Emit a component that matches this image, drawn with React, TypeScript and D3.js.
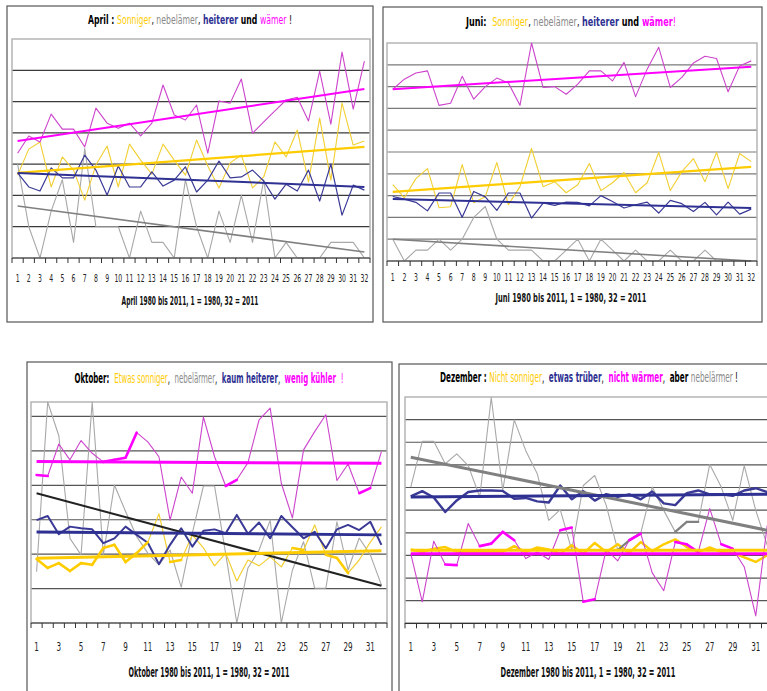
import React from 'react';
import * as d3 from 'd3';

// ---------- DATA (grid units of each panel) ----------
const years = [1, 2, 3, 4, 5, 6, 7, 8, 9, 10, 11, 12, 13, 14, 15, 16, 17, 18, 19, 20, 21, 22, 23, 24, 25, 26, 27, 28, 29, 30, 31, 32];

// April
const aprilTemp = [3.35, 3.90, 3.71, 4.60, 4.12, 4.12, 3.55, 4.79, 4.31, 4.15, 4.31, 3.90, 4.31, 5.53, 4.57, 4.41, 4.89, 3.35, 5.02, 4.95, 5.72, 3.99, 4.35, 4.70, 5.05, 5.14, 4.38, 5.97, 4.28, 6.58, 4.76, 6.29];
const aprilTempTrend = [3.74, 5.40];
const aprilSun = [2.65, 3.48, 3.71, 2.27, 3.23, 2.81, 1.85, 2.97, 3.58, 2.27, 3.64, 3.13, 2.68, 3.64, 3.13, 2.65, 3.77, 2.94, 2.24, 3.04, 3.29, 2.24, 2.59, 3.71, 3.23, 4.09, 2.43, 4.47, 2.49, 4.95, 3.61, 3.74];
const aprilSunTrend = [2.72, 3.55];
const aprilClear = [2.72, 2.27, 2.14, 2.88, 2.56, 2.56, 3.29, 2.81, 2.01, 2.94, 2.27, 2.27, 2.75, 2.30, 2.49, 2.91, 2.11, 2.49, 3.10, 2.56, 2.59, 2.81, 2.46, 1.88, 2.36, 2.14, 2.81, 1.82, 3.00, 1.37, 2.33, 2.17];
const aprilClearTrend = [2.72, 2.27];
const aprilFog = [3, 1, 0, 1.5, 2.5, 0.5, 3.5, 1, 1, 1, 0, 1.5, 0.5, 0.5, 0, 2.5, 1, 0, 1.5, 0.5, 2, 0.5, 2.5, 0, 0.5, 0, 0, 0, 0.5, 0.5, 0.5, 0];
const aprilFogTrend = [1.66, 0.19];

// Juni
const juniTemp = [7.88, 8.34, 8.62, 8.72, 7.14, 7.24, 8.47, 7.42, 8.00, 8.39, 8.16, 7.14, 10.0, 7.96, 8.00, 7.65, 8.11, 8.72, 8.72, 8.26, 9.11, 7.54, 8.80, 9.80, 7.96, 8.42, 9.08, 9.39, 9.29, 7.76, 8.95, 9.18];
const juniTempTrend = [7.88, 8.91];
const juniSun = [3.50, 2.90, 3.78, 4.24, 2.44, 2.49, 4.42, 2.67, 2.95, 4.52, 2.58, 3.41, 5.16, 3.41, 3.64, 3.13, 3.50, 4.47, 3.23, 3.59, 4.06, 3.13, 3.59, 4.98, 3.23, 4.10, 4.70, 3.64, 4.98, 3.32, 4.93, 4.56];
const juniSunTrend = [3.17, 4.32];
const juniClear = [2.96, 2.84, 2.69, 2.30, 3.12, 3.12, 2.01, 3.19, 2.94, 2.32, 3.12, 3.12, 1.97, 2.66, 2.55, 2.70, 2.69, 2.53, 3.00, 2.73, 2.43, 2.58, 2.70, 2.20, 2.78, 2.63, 2.27, 2.69, 2.12, 2.70, 2.15, 2.38];
const juniClearTrend = [2.84, 2.43];
const juniFog = [1, 0, 0.5, 0.5, 1, 0.5, 1, 2, 2.5, 1, 0.5, 0.5, 0.5, 0, 0, 0.5, 1, 0, 1, 0.5, 0, 0.5, 0, 0, 0.5, 0, 0, 0.5, 0, 0, 0, 0];
const juniFogTrend = [1.0, 0.0];

// Oktober
const oktTemp = [4.30, 4.27, 5.20, 4.74, 5.30, 4.93, 4.68, 4.74, 4.80, 5.53, 5.26, 4.83, 2.99, 4.24, 3.77, 5.98, 4.83, 3.98, 4.16, 4.66, 5.90, 6.24, 4.06, 3.05, 5.03, 5.56, 6.05, 4.14, 4.62, 3.77, 3.92, 4.98];
const oktTempTrend = [4.69, 4.64];
const oktSun = [1.86, 1.60, 1.74, 1.51, 1.74, 1.69, 2.18, 2.27, 1.77, 2.03, 2.35, 3.17, 1.77, 1.83, 2.56, 2.18, 1.66, 2.03, 1.22, 1.83, 1.66, 1.92, 1.63, 2.18, 2.12, 2.85, 1.98, 1.89, 1.45, 1.83, 2.35, 2.79];
const oktSunTrend = [1.88, 2.10];
const oktClear = [2.99, 3.11, 2.58, 2.80, 2.75, 2.72, 2.32, 2.46, 2.80, 2.56, 2.33, 1.71, 2.27, 2.75, 2.22, 2.68, 2.72, 2.61, 3.14, 2.59, 2.92, 2.46, 3.11, 2.78, 2.46, 2.65, 2.17, 2.72, 2.85, 2.70, 2.94, 2.27];
const oktClearTrend = [2.64, 2.56];
const oktFog = [1.49, 6.42, 5.44, 2.46, 1.98, 6.42, 1.98, 4.01, 3.24, 2.51, 2.03, 1.69, 2.12, 1.04, 2.61, 3.98, 3.98, 2.01, 0, 1.60, 2.12, 2.99, 0, 1.54, 2.36, 1.01, 1.01, 2.94, 1.54, 2.47, 1.98, 1.10];
const oktFogTrend = [3.77, 1.08];

// Dezember
const dezTemp = [3.08, 0.95, 3.63, 2.60, 2.57, 4.41, 3.41, 3.52, 4.04, 3.67, 2.86, 3.15, 2.82, 4.11, 4.23, 0.95, 1.06, 3.26, 2.76, 3.67, 3.96, 2.23, 1.44, 3.59, 3.49, 3.15, 5.07, 3.49, 3.30, 2.49, 0.33, 4.33];
const dezTempTrend = [3.07, 3.07];
const dezSun = [3.27, 3.15, 3.30, 3.37, 3.15, 3.15, 3.15, 3.15, 3.15, 3.41, 3.15, 3.35, 3.26, 3.08, 3.45, 3.08, 3.55, 3.15, 3.49, 3.11, 3.59, 3.19, 3.49, 3.71, 3.37, 3.15, 3.35, 3.15, 3.11, 2.91, 2.71, 3.01];
const dezSunTrend = [3.23, 3.23];
const dezClear = [5.61, 5.84, 5.56, 4.92, 5.43, 5.80, 5.87, 5.87, 5.85, 5.50, 5.54, 5.39, 5.34, 6.09, 5.48, 5.84, 5.42, 5.71, 5.59, 5.70, 5.48, 5.82, 5.30, 5.22, 5.75, 5.87, 5.70, 5.70, 5.63, 5.87, 5.97, 5.80];
const dezClearTrend = [5.58, 5.70];
const dezFog = [6.02, 8.04, 8.04, 7.05, 7.49, 6.97, 5.58, 9.98, 5.87, 8.99, 7.63, 6.61, 4.55, 5.02, 3.23, 6.09, 6.53, 5.21, 3.23, 3.67, 3.98, 6.02, 4.99, 4.04, 4.48, 4.48, 7.02, 6.02, 4.55, 6.97, 4.99, 3.45];
const dezFogTrend = [7.34, 4.11];

// ---------- STYLE ----------
const YEL = '#f2cf33', YEL_T = '#ffcc00';
const BLU = '#3a3a96', BLU_T = '#2e3192';
const MAG = '#cc44cc', MAG_T = '#ff00ff';
const GRY = '#a8a8a8', GRY_T = '#808080';
const FONT = "'Liberation Sans Narrow','Arial Narrow','DejaVu Sans Condensed',sans-serif";

let measureCtx: CanvasRenderingContext2D | null = null;
function measure(text: string, size: number, bold: boolean): number {
  if (!measureCtx && typeof document !== 'undefined') {
    measureCtx = document.createElement('canvas').getContext('2d');
  }
  if (!measureCtx) return text.length * size * 0.5;
  measureCtx.font = `${bold ? 'bold ' : ''}${size}px ${FONT}`;
  return measureCtx.measureText(text).width;
}

type Seg = { t: string; c: string; b?: boolean };
type Series = { v: number[]; tr: number[]; c: string; w: number; tc: string; tw: number; thick?: number[]; thickW?: number; thickC?: string };
type Panel = {
  box: [number, number, number, number];
  plot: [number, number, number, number];
  yMax: number; grid: number; gridColor: string;
  tickEvery: number; tickY: number; tickFont: number; digitW: number;
  title: Seg[]; titleX: number; titleY: number; titleW: number; titleFont: number;
  axis: string; axisX: number; axisY: number; axisW: number; axisFont: number;
  series: Series[];
};

const panels: Panel[] = [
  {
    box: [7, 6, 373, 322], plot: [12, 39, 370, 258], yMax: 7, grid: 6, gridColor: '#3a3a3a',
    tickEvery: 1, tickY: 281.5, tickFont: 10.5, digitW: 3.9,
    title: [{ t: 'April', c: '#000', b: true }, { t: ' : ', c: '#000', b: true }, { t: 'Sonniger', c: YEL_T }, { t: ', ', c: '#000' }, { t: 'nebelämer', c: '#8a8a8a' }, { t: ', ', c: '#000' }, { t: 'heiterer', c: '#2e3192', b: true }, { t: ' und ', c: '#000', b: true }, { t: 'wämer', c: MAG_T }, { t: ' !', c: '#000' }],
    titleX: 190, titleY: 24, titleW: 204, titleFont: 12.5,
    axis: 'April 1980 bis 2011, 1 = 1980, 32 = 2011', axisX: 190, axisY: 305, axisW: 137, axisFont: 11.5,
    series: [
      { v: aprilFog, tr: aprilFogTrend, c: GRY, w: 1.1, tc: GRY_T, tw: 1.6 },
      { v: aprilSun, tr: aprilSunTrend, c: YEL, w: 1.1, tc: YEL_T, tw: 2.2 },
      { v: aprilClear, tr: aprilClearTrend, c: BLU, w: 1.2, tc: BLU_T, tw: 2 },
      { v: aprilTemp, tr: aprilTempTrend, c: MAG, w: 1.1, tc: MAG_T, tw: 2 },
    ],
  },
  {
    box: [383, 7, 762, 322], plot: [387, 43, 757, 261], yMax: 10, grid: 9, gridColor: '#7a7a7a',
    tickEvery: 1, tickY: 280.5, tickFont: 10.5, digitW: 3.9,
    title: [{ t: 'Juni', c: '#000', b: true }, { t: ':  ', c: '#000', b: true }, { t: 'Sonniger', c: YEL_T }, { t: ', ', c: '#000' }, { t: 'nebelämer', c: '#8a8a8a' }, { t: ', ', c: '#000' }, { t: 'heiterer', c: '#2e3192', b: true }, { t: ' und ', c: '#000', b: true }, { t: 'wämer', c: MAG_T, b: true }, { t: '!', c: MAG_T }],
    titleX: 571, titleY: 26, titleW: 210, titleFont: 12.5,
    axis: 'Juni 1980 bis 2011, 1 = 1980, 32 = 2011', axisX: 571, axisY: 302, axisW: 151, axisFont: 11.5,
    series: [
      { v: juniFog, tr: juniFogTrend, c: GRY, w: 1.1, tc: GRY_T, tw: 1.6 },
      { v: juniSun, tr: juniSunTrend, c: YEL, w: 1.1, tc: YEL_T, tw: 2.2 },
      { v: juniClear, tr: juniClearTrend, c: BLU, w: 1.2, tc: BLU_T, tw: 2 },
      { v: juniTemp, tr: juniTempTrend, c: MAG, w: 1.1, tc: MAG_T, tw: 2 },
    ],
  },
  {
    box: [27, 362, 392, 700], plot: [31, 402, 387, 623], yMax: 6.42, grid: 6, gridColor: '#555555',
    tickEvery: 2, tickY: 651, tickFont: 12.5, digitW: 4.6,
    title: [{ t: 'Oktober', c: '#000', b: true }, { t: ':  ', c: '#000', b: true }, { t: 'Etwas sonniger', c: YEL_T }, { t: ',  ', c: '#000' }, { t: 'nebelärmer', c: '#8a8a8a' }, { t: ',  ', c: '#000' }, { t: 'kaum heiterer', c: '#2e3192', b: true }, { t: ',  ', c: '#000' }, { t: 'wenig  kühler', c: MAG_T, b: true }, { t: ' !', c: MAG_T }],
    titleX: 209, titleY: 383, titleW: 269, titleFont: 14.5,
    axis: 'Oktober 1980 bis 2011, 1 = 1980, 32 = 2011', axisX: 209, axisY: 677, axisW: 161, axisFont: 13.5,
    series: [
      { v: oktFog, tr: oktFogTrend, c: GRY, w: 1.1, tc: '#222222', tw: 2 },
      { v: oktSun, tr: oktSunTrend, c: YEL, w: 1.2, tc: YEL_T, tw: 3, thick: [1, 2, 3, 4, 5, 6, 7, 8, 9, 10, 13, 24, 27, 28], thickW: 2.6, thickC: YEL_T },
      { v: oktClear, tr: oktClearTrend, c: BLU, w: 2, tc: BLU_T, tw: 3 },
      { v: oktTemp, tr: oktTempTrend, c: MAG, w: 1.1, tc: MAG_T, tw: 3, thick: [1, 7, 8, 9, 18, 30], thickW: 2.6, thickC: MAG_T },
    ],
  },
  {
    box: [399, 364, 800, 700], plot: [405, 397, 773, 623.3], yMax: 10, grid: 9, gridColor: '#555555',
    tickEvery: 2, tickY: 651, tickFont: 12.5, digitW: 4.6,
    title: [{ t: 'Dezember', c: '#000', b: true }, { t: ' : ', c: '#000', b: true }, { t: 'Nicht sonniger', c: YEL_T }, { t: ',  ', c: '#000' }, { t: 'etwas trüber', c: '#2e3192', b: true }, { t: ',  ', c: '#000' }, { t: 'nicht wärmer', c: MAG_T, b: true }, { t: ',  ', c: '#000' }, { t: 'aber ', c: '#000', b: true }, { t: 'nebelärmer', c: '#8a8a8a' }, { t: ' !', c: '#000' }],
    titleX: 589, titleY: 382, titleW: 298, titleFont: 14.5,
    axis: 'Dezember 1980 bis 2011, 1 = 1980, 32 = 2011', axisX: 588, axisY: 677, axisW: 175, axisFont: 13.5,
    series: [
      { v: dezFog, tr: dezFogTrend, c: GRY, w: 1.1, tc: GRY_T, tw: 3, thick: [19, 20, 24, 25], thickW: 2.2, thickC: '#808080' },
      { v: dezSun, tr: dezSunTrend, c: YEL_T, w: 2.4, tc: YEL_T, tw: 3 },
      { v: dezClear, tr: dezClearTrend, c: BLU, w: 2.4, tc: BLU_T, tw: 3 },
      { v: dezTemp, tr: dezTempTrend, c: MAG, w: 1.1, tc: MAG_T, tw: 3, thick: [4, 7, 8, 9, 14, 16, 20, 24, 25, 28], thickW: 2.6, thickC: MAG_T },
    ],
  },
];

function PanelView({ p, idx }: { p: Panel; idx: number }) {
  const [l, t, r, b] = p.plot;
  const x = d3.scaleBand<number>().domain(years).range([l, r]).padding(0);
  const cx = (d: number) => (x(d) as number) + x.bandwidth() / 2;
  const y = d3.scaleLinear().domain([0, p.yMax]).range([b, t]);
  const line = d3.line<number>().x((_, i) => cx(years[i])).y((v) => y(v));
  const trendLine = d3.line<number>().x((_, i) => cx(i === 0 ? years[0] : years[years.length - 1])).y((v) => y(v));
  const gridVals = d3.range(1, p.grid + 1);
  const boundaries = [...years.map((d) => x(d) as number), r];
  const clipId = `clip${idx}`;

  // title layout: measure segments (with their spaces), then squeeze into the target width
  const segW = p.title.map((s) => measure(s.t, p.titleFont, !!s.b));
  const lead = p.title.map((s) => measure(s.t.slice(0, s.t.length - s.t.trimStart().length), p.titleFont, !!s.b));
  const totalW = d3.sum(segW);
  const tScale = p.titleW / totalW;
  const offsets = segW.map((_, i) => d3.sum(segW.slice(0, i)) + lead[i]);
  const axisNat = measure(p.axis, p.axisFont, true);
  const aScale = p.axisW / axisNat;

  return (
    <g>
      <rect x={p.box[0]} y={p.box[1]} width={p.box[2] - p.box[0]} height={p.box[3] - p.box[1]} fill="#fff" stroke="#555" strokeWidth={1.2} />
      <defs>
        <clipPath id={clipId}>
          <rect x={l} y={t - 1} width={r - l} height={b - t + 2} />
        </clipPath>
      </defs>
      {gridVals.map((g) => (
        <line key={g} x1={l} x2={r} y1={y(g)} y2={y(g)} stroke={p.gridColor} strokeWidth={1.2} />
      ))}
      <rect x={l} y={t} width={r - l} height={b - t} fill="none" stroke="#b5b5b5" strokeWidth={1.5} />
      <g clipPath={`url(#${clipId})`}>
        {p.series.map((s, i) => (
          <path key={'s' + i} d={line(s.v) || ''} fill="none" stroke={s.c} strokeWidth={s.w} strokeLinejoin="round" />
        ))}
        {p.series.map((s, i) =>
          (s.thick || []).map((k) => (
            <path key={'h' + i + '-' + k} d={line(s.v.slice(k - 1, k + 1).length === 2 ? s.v : []) ? `M${cx(k)},${y(s.v[k - 1])}L${cx(k + 1)},${y(s.v[k])}` : ''} fill="none" stroke={s.thickC || s.c} strokeWidth={s.thickW || 2.5} strokeLinecap="round" />
          ))
        )}
        {p.series.map((s, i) => (
          <path key={'t' + i} d={trendLine(s.tr) || ''} fill="none" stroke={s.tc} strokeWidth={s.tw} />
        ))}
      </g>
      <line x1={l} x2={r} y1={b} y2={b} stroke="#333" strokeWidth={1.2} />
      {boundaries.map((bx, i) => (
        <line key={'k' + i} x1={bx} x2={bx} y1={b} y2={b + 5} stroke="#333" strokeWidth={1} />
      ))}
      {years.filter((d) => (d - 1) % p.tickEvery === 0).map((d) => {
        const label = String(d);
        const nat = measure(label, p.tickFont, false);
        const sx = (label.length * p.digitW) / nat;
        return (
          <text key={'l' + d} transform={`translate(${cx(d)},${p.tickY}) scale(${sx},1)`} textAnchor="middle" fontFamily={FONT} fontSize={p.tickFont} fill="#222">
            {label}
          </text>
        );
      })}
      <g transform={`translate(${p.titleX - p.titleW / 2},${p.titleY}) scale(${tScale},1)`}>
        {p.title.map((s, i) => (
          <text key={i} x={offsets[i]} y={0} fontFamily={FONT} fontSize={p.titleFont} fill={s.c} fontWeight={s.b ? 'bold' : 'normal'}>
            {s.t.trim()}
          </text>
        ))}
      </g>
      <g transform={`translate(${p.axisX},${p.axisY}) scale(${aScale},1)`}>
        <text x={0} y={0} textAnchor="middle" fontFamily={FONT} fontSize={p.axisFont} fontWeight="bold" fill="#111">
          {p.axis}
        </text>
      </g>
    </g>
  );
}

export default function App() {
  return (
    <svg width={767} height={691} viewBox="0 0 767 691" style={{ position: 'absolute', left: 0, top: 0, background: '#fff' }}>
      <rect x={0} y={0} width={767} height={691} fill="#fff" />
      {panels.map((p, i) => (
        <PanelView key={i} p={p} idx={i} />
      ))}
    </svg>
  );
}
